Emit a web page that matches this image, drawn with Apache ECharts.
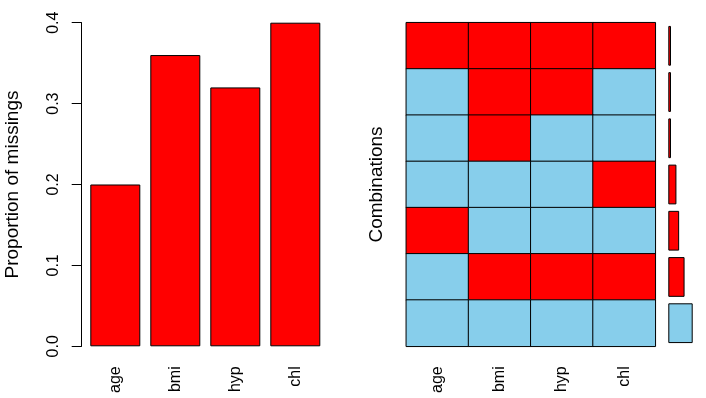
<!DOCTYPE html>
<html>
<head>
<meta charset="utf-8">
<script src="https://cdn.jsdelivr.net/npm/echarts@6/dist/echarts.min.js"></script>
<style>
  html, body { margin: 0; padding: 0; background: #fff; }
  .aggr { width: 706px; height: 398px; }
</style>
</head>
<body>
<div class="aggr"></div>
<script>
// variables and their proportion of missing values
var vars = ['age', 'bmi', 'hyp', 'chl'];
var propMissing = [0.20, 0.36, 0.32, 0.40];
var yTicks = [0.0, 0.1, 0.2, 0.3, 0.4];

// missingness patterns, top row first (1 = missing)
var patterns = [
  [1, 1, 1, 1],
  [0, 1, 1, 0],
  [0, 1, 0, 0],
  [0, 0, 0, 1],
  [1, 0, 0, 0],
  [0, 1, 1, 1],
  [0, 0, 0, 0]
];
// how often each pattern occurs
var counts = [1, 1, 1, 3, 4, 6, 9];

(function(){
    var RED = '#ff0000', BLUE = '#87ceeb';
    var font = 'Liberation Sans, Arial, sans-serif';
    var rows = patterns.map(function(p, i){ return 'c' + i; });

    var cells = [];
    patterns.forEach(function(p, r){
      p.forEach(function(v, c){ cells.push([c, r, v]); });
    });

    var mycharts = echarts.init(document.querySelector('.aggr'));
    var option = {
        animation: false,
        grid: [
          { left: 85.3, top: 22.7, width: 240, height: 323.6 },
          { left: 406.3, top: 22.7, width: 249, height: 323.6 },
          { left: 668.3, top: 22.7, width: 24.4, height: 323.6 }
        ],
        xAxis: [
          {
            gridIndex: 0, type: 'category', data: vars,
            axisLine: { show: false }, axisTick: { show: false },
            axisLabel: { rotate: 90, margin: 20, fontSize: 16, color: '#000', fontFamily: font }
          },
          {
            gridIndex: 1, type: 'category', data: vars,
            axisLine: { show: false }, axisTick: { show: false },
            axisLabel: { rotate: 90, margin: 20, fontSize: 16, color: '#000', fontFamily: font }
          },
          {
            gridIndex: 2, type: 'value', min: 0, max: 9, show: false
          }
        ],
        yAxis: [
          {
            gridIndex: 0, type: 'value', min: 0, max: 0.4, interval: 0.1,
            offset: 3.6,
            name: 'Proportion of missings', nameLocation: 'middle', nameGap: 59,
            nameTextStyle: { fontSize: 19, color: '#000', fontFamily: font },
            axisLine: { show: true, lineStyle: { color: '#000', width: 1 } },
            axisTick: { show: true, length: 10, lineStyle: { color: '#000' } },
            splitLine: { show: false },
            axisLabel: {
              rotate: 90, margin: 20, fontSize: 16, color: '#000', fontFamily: font,
              formatter: function(v){ return v.toFixed(1); }
            }
          },
          {
            gridIndex: 1, type: 'category', data: rows, inverse: true,
            name: 'Combinations', nameLocation: 'middle', nameGap: 20,
            nameTextStyle: { fontSize: 19, color: '#000', fontFamily: font },
            axisLine: { show: false }, axisTick: { show: false }, axisLabel: { show: false },
            splitLine: { show: false }
          },
          {
            gridIndex: 2, type: 'category', data: rows, inverse: true, show: false
          }
        ],
        visualMap: {
          show: false, seriesIndex: 1, dimension: 2, type: 'piecewise',
          pieces: [ { value: 0, color: BLUE }, { value: 1, color: RED } ]
        },
        series: [
          {
            type: 'bar', xAxisIndex: 0, yAxisIndex: 0,
            data: propMissing, barWidth: 50,
            itemStyle: { color: RED, borderColor: '#000', borderWidth: 1 }
          },
          {
            type: 'heatmap', xAxisIndex: 1, yAxisIndex: 1,
            data: cells,
            itemStyle: { borderColor: '#000', borderWidth: 1 }
          },
          {
            type: 'bar', xAxisIndex: 2, yAxisIndex: 2,
            barCategoryGap: '14%',
            data: counts.map(function(n, i){
              return { value: n, itemStyle: { color: i === counts.length - 1 ? BLUE : RED } };
            }),
            itemStyle: { borderColor: '#000', borderWidth: 1 }
          }
        ]
    };
    mycharts.setOption(option);
})();
</script>
</body>
</html>
